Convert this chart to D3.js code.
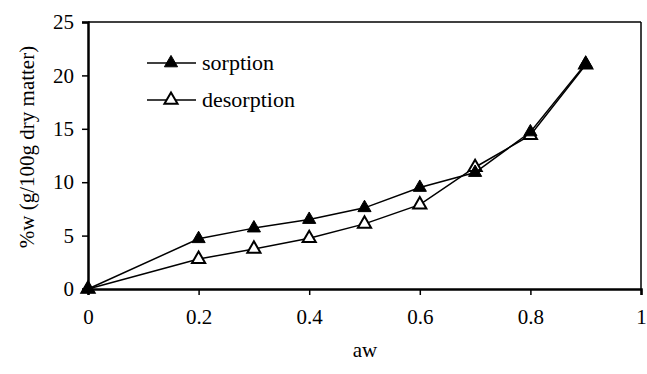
<!DOCTYPE html>
<html><head><meta charset="utf-8">
<script src="https://cdn.jsdelivr.net/npm/d3@7"></script>
<style>body{margin:0;background:#fff}svg{display:block}</style>
</head><body>
<script>
const aw = [0, 0.2, 0.3, 0.4, 0.5, 0.6, 0.7, 0.8, 0.9];
const sorption = [0, 4.7, 5.7, 6.5, 7.6, 9.5, 10.9, 14.7, 21.1];
const desorption = [0, 2.8, 3.75, 4.75, 6.1, 7.9, 11.4, 14.4, 21.0];
const xTicks = [0, 0.2, 0.4, 0.6, 0.8, 1];
const yTicks = [0, 5, 10, 15, 20, 25];
const seriesNames = ["sorption", "desorption"];

const FONT = "Liberation Serif, DejaVu Serif, Tinos, Times, serif";
const W = 647, H = 374;
const svg = d3.select("body").append("svg").attr("width", W).attr("height", H);
const x = d3.scaleLinear().domain([0, 1]).range([88, 641]);
const y = d3.scaleLinear().domain([0, 25]).range([289, 22]);

svg.append("line").attr("x1", x(0)).attr("x2", x(1)).attr("y1", y(25)).attr("y2", y(25)).attr("stroke", "#000").attr("stroke-width", 1.5);
svg.append("line").attr("x1", x(1)).attr("x2", x(1)).attr("y1", y(25)).attr("y2", y(0)).attr("stroke", "#000").attr("stroke-width", 1.5);

const xAxis = svg.append("g").attr("transform", `translate(0,${y(0)})`)
  .call(d3.axisBottom(x).tickValues(xTicks).tickFormat(d => d3.format("")(d)).tickSize(6).tickPadding(14));
const yAxis = svg.append("g").attr("transform", `translate(${x(0)},0)`)
  .call(d3.axisLeft(y).tickValues(yTicks).tickSize(6).tickPadding(8));
[xAxis, yAxis].forEach(g => {
  g.attr("font-family", FONT).attr("font-size", 21);
  g.select(".domain").attr("stroke-width", 2.5);
  g.selectAll(".tick line").attr("stroke-width", 1.5);
});

const line = d3.line().x(d => x(d[0])).y(d => y(d[1]));
const tri = d3.symbol().type(d3.symbolTriangle).size(75);

function drawSeries(vals, filled) {
  const pts = aw.map((a, i) => [a, vals[i]]);
  svg.append("path").datum(pts).attr("d", line).attr("fill", "none").attr("stroke", "#000").attr("stroke-width", 1.5);
  svg.selectAll(null).data(pts).enter().append("path")
    .attr("d", tri).attr("transform", d => `translate(${x(d[0])},${y(d[1])})`)
    .attr("fill", filled ? "#000" : "#fff").attr("stroke", "#000").attr("stroke-width", filled ? 1 : 2);
}
drawSeries(desorption, false);
drawSeries(sorption, true);

const leg = svg.append("g").attr("font-family", FONT);
seriesNames.forEach((n, i) => {
  const cy = 63 + i * 37;
  leg.append("line").attr("x1", 147).attr("x2", 196).attr("y1", cy).attr("y2", cy).attr("stroke", "#000").attr("stroke-width", 1.5);
  leg.append("path").attr("d", tri).attr("transform", `translate(171,${cy})`)
    .attr("fill", i === 0 ? "#000" : "#fff").attr("stroke", "#000").attr("stroke-width", i === 0 ? 1 : 2);
  leg.append("text").attr("x", 202).attr("y", cy + 7).attr("font-size", 22).text(n);
});

svg.append("text").attr("x", 365).attr("y", 357).attr("text-anchor", "middle").attr("font-family", FONT).attr("font-size", 21).text("aw");
svg.append("text").attr("transform", "translate(34,147) rotate(-90)").attr("text-anchor", "middle").attr("font-family", FONT).attr("font-size", 21).text("%w (g/100g dry matter)");
</script>
</body></html>
